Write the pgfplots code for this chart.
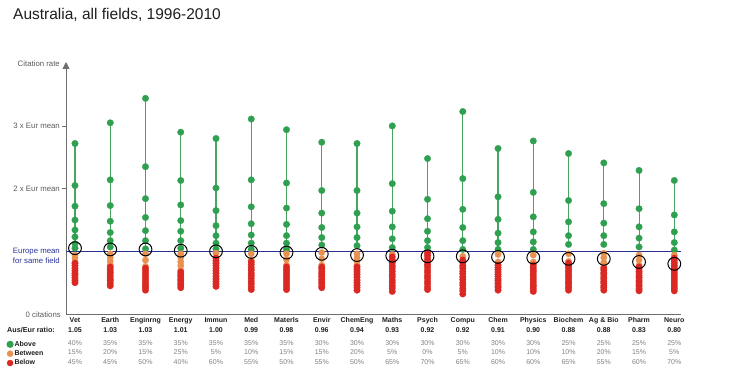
\documentclass[border=0pt]{standalone}
\usepackage{pgfplots}
\pgfplotsset{compat=1.18}
\usepackage{fontspec}
\setmainfont{Liberation Sans}
\usetikzlibrary{arrows.meta}
\definecolor{cgreen}{RGB}{46,160,80}
\definecolor{glinecol}{RGB}{70,165,95}
\definecolor{corange}{RGB}{232,145,80}
\definecolor{cred}{RGB}{218,40,35}
\definecolor{navy}{RGB}{40,50,150}
\definecolor{axgray}{RGB}{110,110,110}
\definecolor{labgray}{RGB}{90,90,90}
\definecolor{pctgray}{RGB}{130,130,130}
\definecolor{darktext}{RGB}{30,30,30}
\begin{document}
\begin{tikzpicture}
\useasboundingbox (0pt,0pt) rectangle (754pt,377pt);
\begin{axis}[at={(66pt,63pt)}, anchor=south west, scale only axis,
  width=615pt, height=252pt,
  xmin=-0.255, xmax=17.19, ymin=0, ymax=4.02,
  axis x line*=bottom, axis y line*=left,
  axis line style={draw=axgray, line width=0.9pt},
  y axis line style={-{Triangle[width=7pt,length=7pt]}},
  xtick=\empty, ytick={2,3}, yticklabels={},
  tick style={axgray, line width=0.8pt}, major tick length=4pt, tick align=outside,
  clip=false,
  legend style={at={(axis description cs:-0.097,-0.103)}, anchor=north west, draw=none, fill=none,
    font=\bfseries\fontsize{7}{8}\selectfont, text=darktext, row sep=1.1pt, inner sep=0pt,
    nodes={inner sep=0.9pt}},
  legend cell align=left,
]
\addplot[draw=glinecol, line width=1.1pt, mark=*, mark size=3.3pt, mark options={draw=cgreen, fill=cgreen, line width=0.2pt}, unbounded coords=jump,
  legend image code/.code={\fill[cgreen] (0,0) circle (3pt);}] coordinates {
(0,2.72) (0,2.05) (0,1.72) (0,1.50) (0,1.34) (0,1.23) (0,1.12) (0,1.05) (0,nan)
(1,3.05) (1,2.14) (1,1.73) (1,1.48) (1,1.30) (1,1.17) (1,1.07) (1,nan)
(2,3.44) (2,2.35) (2,1.84) (2,1.54) (2,1.33) (2,1.17) (2,1.04) (2,nan)
(3,2.90) (3,2.13) (3,1.74) (3,1.49) (3,1.32) (3,1.17) (3,1.05) (3,nan)
(4,2.80) (4,2.01) (4,1.65) (4,1.41) (4,1.25) (4,1.13) (4,1.04) (4,nan)
(5,3.11) (5,2.14) (5,1.71) (5,1.44) (5,1.26) (5,1.13) (5,1.03) (5,nan)
(6,2.94) (6,2.09) (6,1.69) (6,1.43) (6,1.25) (6,1.13) (6,1.03) (6,nan)
(7,2.74) (7,1.97) (7,1.61) (7,1.38) (7,1.22) (7,1.10) (7,nan)
(8,2.72) (8,1.97) (8,1.61) (8,1.39) (8,1.22) (8,1.09) (8,nan)
(9,3.00) (9,2.08) (9,1.64) (9,1.39) (9,1.20) (9,1.06) (9,nan)
(10,2.48) (10,1.83) (10,1.52) (10,1.32) (10,1.17) (10,1.06) (10,nan)
(11,3.23) (11,2.16) (11,1.67) (11,1.38) (11,1.17) (11,1.03) (11,nan)
(12,2.64) (12,1.87) (12,1.51) (12,1.29) (12,1.14) (12,1.03) (12,nan)
(13,2.76) (13,1.94) (13,1.55) (13,1.31) (13,1.15) (13,1.03) (13,nan)
(14,2.56) (14,1.81) (14,1.47) (14,1.25) (14,1.11) (14,nan)
(15,2.41) (15,1.76) (15,1.45) (15,1.25) (15,1.11) (15,nan)
(16,2.29) (16,1.68) (16,1.39) (16,1.21) (16,1.07) (16,nan)
(17,2.13) (17,1.58) (17,1.31) (17,1.14) (17,1.02)
};
\addlegendentry{Above}
\addplot[only marks, mark=*, mark size=3.2pt, mark options={draw=corange, fill=corange, line width=0.2pt},
  legend image code/.code={\fill[corange] (0,0) circle (3pt);}] coordinates {
(0,0.94) (0,0.89) (0,0.83)
(1,0.96) (1,0.90) (1,0.84) (1,0.78)
(2,0.96) (2,0.86) (2,0.76)
(3,0.96) (3,0.90) (3,0.83) (3,0.77) (3,0.70)
(4,0.97)
(5,0.96) (5,0.86)
(6,0.96) (6,0.87) (6,0.78)
(7,0.98) (7,0.88) (7,0.78)
(8,0.96) (8,0.90) (8,0.84) (8,0.78)
(9,0.95)
(11,0.92)
(12,0.95) (12,0.83)
(13,0.94) (13,0.83)
(14,0.96) (14,0.84)
(15,0.97) (15,0.90) (15,0.82) (15,0.75)
(16,0.94) (16,0.86) (16,0.78)
(17,0.94)
};
\addlegendentry{Between}
\addplot[only marks, mark=*, mark size=3.3pt, mark options={draw=cred, fill=cred, line width=0.2pt},
  legend image code/.code={\fill[cred] (0,0) circle (3pt);}] coordinates {
(0,0.81) (0,0.77) (0,0.73) (0,0.69) (0,0.65) (0,0.62) (0,0.58) (0,0.54) (0,0.50)
(1,0.75) (1,0.71) (1,0.67) (1,0.64) (1,0.60) (1,0.56) (1,0.53) (1,0.49) (1,0.45)
(2,0.73) (2,0.69) (2,0.65) (2,0.61) (2,0.57) (2,0.53) (2,0.49) (2,0.45) (2,0.42) (2,0.38)
(3,0.67) (3,0.63) (3,0.60) (3,0.56) (3,0.53) (3,0.49) (3,0.46) (3,0.42)
(4,0.89) (4,0.85) (4,0.81) (4,0.77) (4,0.73) (4,0.69) (4,0.65) (4,0.60) (4,0.56) (4,0.52) (4,0.48) (4,0.44)
(5,0.83) (5,0.79) (5,0.74) (5,0.70) (5,0.65) (5,0.61) (5,0.57) (5,0.52) (5,0.48) (5,0.43) (5,0.39)
(6,0.75) (6,0.71) (6,0.67) (6,0.63) (6,0.59) (6,0.55) (6,0.51) (6,0.47) (6,0.43) (6,0.39)
(7,0.75) (7,0.72) (7,0.68) (7,0.65) (7,0.62) (7,0.59) (7,0.55) (7,0.52) (7,0.49) (7,0.45) (7,0.42)
(8,0.75) (8,0.71) (8,0.67) (8,0.63) (8,0.59) (8,0.54) (8,0.50) (8,0.46) (8,0.42) (8,0.38)
(9,0.91) (9,0.86) (9,0.82) (9,0.77) (9,0.73) (9,0.68) (9,0.63) (9,0.59) (9,0.54) (9,0.50) (9,0.45) (9,0.41) (9,0.36)
(10,0.97) (10,0.93) (10,0.88) (10,0.84) (10,0.79) (10,0.75) (10,0.70) (10,0.66) (10,0.61) (10,0.57) (10,0.52) (10,0.48) (10,0.43) (10,0.39)
(11,0.86) (11,0.82) (11,0.77) (11,0.73) (11,0.68) (11,0.64) (11,0.59) (11,0.55) (11,0.50) (11,0.46) (11,0.41) (11,0.37) (11,0.32)
(12,0.78) (12,0.74) (12,0.71) (12,0.67) (12,0.63) (12,0.60) (12,0.56) (12,0.53) (12,0.49) (12,0.45) (12,0.42) (12,0.38)
(13,0.78) (13,0.74) (13,0.70) (13,0.67) (13,0.63) (13,0.59) (13,0.55) (13,0.51) (13,0.47) (13,0.44) (13,0.40) (13,0.36)
(14,0.81) (14,0.77) (14,0.74) (14,0.70) (14,0.67) (14,0.63) (14,0.60) (14,0.56) (14,0.52) (14,0.49) (14,0.45) (14,0.42) (14,0.38)
(15,0.73) (15,0.70) (15,0.66) (15,0.63) (15,0.59) (15,0.56) (15,0.52) (15,0.49) (15,0.45) (15,0.42) (15,0.38)
(16,0.75) (16,0.72) (16,0.68) (16,0.65) (16,0.61) (16,0.58) (16,0.54) (16,0.51) (16,0.47) (16,0.44) (16,0.40) (16,0.37)
(17,0.89) (17,0.85) (17,0.81) (17,0.77) (17,0.73) (17,0.69) (17,0.65) (17,0.61) (17,0.57) (17,0.53) (17,0.49) (17,0.45) (17,0.41) (17,0.37)
};
\addlegendentry{Below}
\addplot[navy, line width=1.2pt, forget plot] coordinates {(-0.255,1) (17.19,1)};
\addplot[only marks, mark=o, mark size=6.4pt, mark options={draw=black, line width=1pt}, forget plot] coordinates {
(0,1.05) (1,1.03) (2,1.03) (3,1.01) (4,1.00) (5,0.99) (6,0.98) (7,0.96) (8,0.94)
(9,0.93) (10,0.92) (11,0.92) (12,0.91) (13,0.90) (14,0.88) (15,0.88) (16,0.83) (17,0.80)
};
\end{axis}
\node[anchor=base west, font=\fontsize{15.5}{17}\selectfont, text=darktext, inner sep=0pt] at (13pt,357pt) {Australia, all fields, 1996-2010};
\begin{scope}[every node/.style={font=\fontsize{7.8}{9}\selectfont, inner sep=0pt}]
\node[anchor=east, text=labgray] at (60pt,313.7pt) {Citation rate};
\node[anchor=east, text=labgray] at (60pt,251pt) {3 x Eur mean};
\node[anchor=east, text=labgray] at (60pt,188.5pt) {2 x Eur mean};
\node[anchor=east, text=navy] at (60pt,125.3pt) {Europe mean};
\node[anchor=east, text=navy] at (60pt,116.3pt) {for same field};
\node[anchor=east, text=labgray] at (61pt,62.5pt) {0 citations};
\end{scope}
\begin{scope}[every node/.style={font=\fontsize{7}{8}\selectfont, inner sep=0pt}]
\node[anchor=base west, text=darktext, font=\bfseries\fontsize{7.2}{8}\selectfont] at (7pt,44.5pt) {Aus/Eur ratio:};
\foreach \i/\n/\r/\a/\b/\c in {0/Vet/1.05/40/15/45, 1/Earth/1.03/35/20/45, 2/Enginrng/1.03/35/15/50,
  3/Energy/1.01/35/25/40, 4/Immun/1.00/35/5/60, 5/Med/0.99/35/10/55, 6/Materls/0.98/35/15/50,
  7/Envir/0.96/30/15/55, 8/ChemEng/0.94/30/20/50, 9/Maths/0.93/30/5/65, 10/Psych/0.92/30/0/70,
  11/Compu/0.92/30/5/65, 12/Chem/0.91/30/10/60, 13/Physics/0.90/30/10/60, 14/Biochem/0.88/25/10/65,
  15/Ag \& Bio/0.88/25/20/55, 16/Pharm/0.83/25/15/60, 17/Neuro/0.80/25/5/70} {
  \pgfmathsetmacro\xx{75+35.25*\i}
  \node[anchor=base, text=darktext, font=\bfseries\fontsize{7}{8}\selectfont] at (\xx pt,54.5pt) {\n};
  \node[anchor=base, text=darktext, font=\bfseries\fontsize{7}{8}\selectfont] at (\xx pt,44.5pt) {\r};
  \node[anchor=base, text=pctgray] at (\xx pt,31.8pt) {\a\%};
  \node[anchor=base, text=pctgray] at (\xx pt,22.2pt) {\b\%};
  \node[anchor=base, text=pctgray] at (\xx pt,12.8pt) {\c\%};
}
\end{scope}
\end{tikzpicture}
\end{document}
